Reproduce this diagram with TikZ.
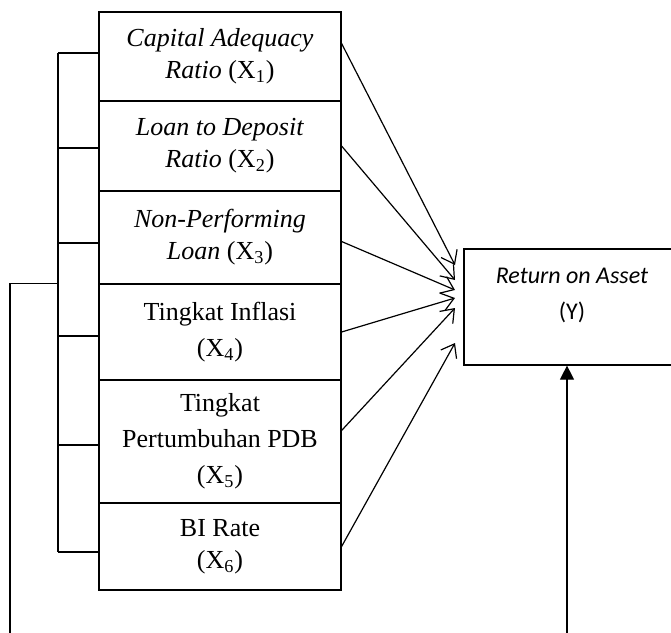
\documentclass[tikz,border=0pt]{standalone}
\usepackage{fontspec}
\setmainfont{Liberation Serif}
\newfontfamily\calibri{Carlito}
\usetikzlibrary{arrows.meta}

\begin{document}
\begin{tikzpicture}[x=0.5pt, y=-0.5pt, line width=0.6pt,
    varbox/.style={draw, minimum width=121pt, inner sep=0pt, align=center,
        font=\fontsize{13}{16}\selectfont},
    barb/.style={-{Straight Barb[length=6pt,width=9pt]}}]
    % Frame of the picture
    \useasboundingbox (0,0) rectangle (671,633);
    \clip (0,0) rectangle (671,633);

    % Independent variables
    \node[varbox, minimum height=44.5pt] (x1) at (220,56.5)
        {\textit{Capital Adequacy}\\\textit{Ratio} (X\textsubscript{1})};
    \node[varbox, minimum height=45pt] (x2) at (220,146)
        {\textit{Loan to Deposit}\\\textit{Ratio} (X\textsubscript{2})};
    \node[varbox, minimum height=46.5pt] (x3) at (220,237.5)
        {\textit{Non-Performing}\\\textit{Loan} (X\textsubscript{3})};
    \node[varbox, minimum height=48pt, font=\fontsize{13}{18}\selectfont] (x4) at (220,332)
        {Tingkat Inflasi\\(X\textsubscript{4})};
    \node[varbox, minimum height=61.5pt, font=\fontsize{13}{18}\selectfont] (x5) at (220,441.5)
        {Tingkat\\Pertumbuhan PDB\\(X\textsubscript{5})};
    \node[varbox, minimum height=43.5pt] (x6) at (220,546.5)
        {BI Rate\\(X\textsubscript{6})};

    % Dependent variable
    \node[draw, minimum width=108pt, minimum height=58pt] (y) at (572,307) {};
    \node[font=\calibri\fontsize{12}{18}\selectfont, align=center] (ytext)
        at ([yshift=6pt]y.center) {\textit{Return on Asset}\\(Y)};

    % Define coordinates
    \coordinate (bus) at (58,0);
    \coordinate (low) at (10,640);
    \coordinate (ybot) at (567,640);
    \foreach \i/\t in {1/265, 2/280, 3/290, 4/298, 5/308, 6/343}
        \coordinate (t\i) at (455,\t);

    % Draw bracket on the left
    \foreach \i/\s in {1/1.75, 2/-1, 3/-2.75, 4/-2, 5/-1.75, 6/-2.75}
        \draw ([yshift=\s pt]x\i.west) -- ([yshift=\s pt]x\i.west -| bus);
    \draw ([yshift=1.75pt]x1.west -| bus) -- ([yshift=-2.75pt]x6.west -| bus);
    \draw (low) |- (bus |- x4.north);

    % Draw directed edges
    \foreach \i/\s in {1/6.5, 2/0, 3/-2, 4/0, 5/5.5, 6/0}
        \draw[barb] ([yshift=\s pt]x\i.east) -- (t\i);
    \draw[-{Triangle[length=7pt,width=7pt]}] (ybot) -- (ybot |- y.south);

\end{tikzpicture}
\end{document}
